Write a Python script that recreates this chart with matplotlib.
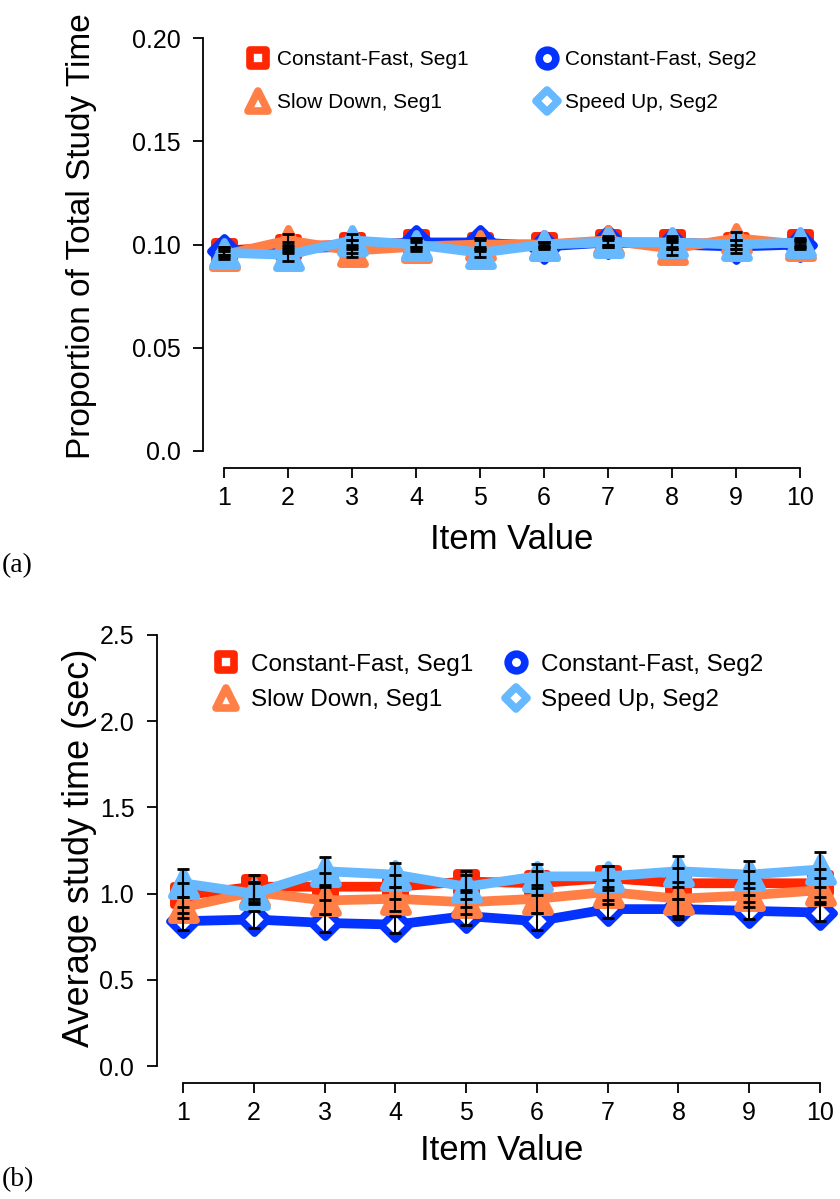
import matplotlib
matplotlib.use("Agg")
import matplotlib.pyplot as plt
from matplotlib.lines import Line2D
from matplotlib.markers import MarkerStyle

plt.rcParams['font.family'] = ['Liberation Sans', 'DejaVu Sans']

# ---------------- data ----------------
items = [1, 2, 3, 4, 5, 6, 7, 8, 9, 10]
series_names = ["Constant-Fast, Seg1", "Constant-Fast, Seg2", "Slow Down, Seg1", "Speed Up, Seg2"]

# panel (a): proportion of total study time
cf1_a = [0.097, 0.099, 0.100, 0.101, 0.100, 0.100, 0.101, 0.101, 0.100, 0.101]
cf2_a = [0.097, 0.098, 0.099, 0.101, 0.101, 0.099, 0.101, 0.100, 0.099, 0.100]
sd1_a = [0.095, 0.102, 0.097, 0.099, 0.100, 0.100, 0.102, 0.098, 0.103, 0.100]
su2_a = [0.096, 0.095, 0.102, 0.100, 0.096, 0.100, 0.101, 0.101, 0.100, 0.101]
cf1_a_err = [0.002, 0.002, 0.002, 0.002, 0.002, 0.001, 0.001, 0.002, 0.002, 0.001]
cf2_a_err = [0.002, 0.002, 0.003, 0.002, 0.002, 0.001, 0.002, 0.002, 0.003, 0.001]
sd1_a_err = [0.002, 0.003, 0.003, 0.002, 0.003, 0.001, 0.002, 0.003, 0.003, 0.002]
su2_a_err = [0.002, 0.003, 0.003, 0.002, 0.002, 0.001, 0.002, 0.003, 0.002, 0.002]

# panel (b): average study time (sec)
cf1_b = [0.99, 1.04, 1.04, 1.04, 1.07, 1.06, 1.09, 1.06, 1.06, 1.06]
cf2_b = [0.84, 0.85, 0.83, 0.82, 0.87, 0.84, 0.91, 0.91, 0.90, 0.89]
sd1_b = [0.92, 1.01, 0.96, 0.97, 0.95, 0.97, 1.01, 0.97, 0.99, 1.02]
su2_b = [1.06, 1.00, 1.13, 1.11, 1.04, 1.10, 1.10, 1.13, 1.11, 1.14]
cf1_b_err = [0.07, 0.07, 0.08, 0.07, 0.06, 0.07, 0.07, 0.09, 0.07, 0.08]
cf2_b_err = [0.05, 0.05, 0.05, 0.05, 0.05, 0.05, 0.05, 0.06, 0.05, 0.05]
sd1_b_err = [0.06, 0.06, 0.08, 0.07, 0.07, 0.08, 0.07, 0.10, 0.07, 0.07]
su2_b_err = [0.08, 0.06, 0.08, 0.07, 0.07, 0.07, 0.06, 0.09, 0.08, 0.10]

yticks_a = [0.0, 0.05, 0.10, 0.15, 0.20]
yticklabels_a = ["0.0", "0.05", "0.10", "0.15", "0.20"]
yticks_b = [0.0, 0.5, 1.0, 1.5, 2.0, 2.5]
yticklabels_b = ["0.0", "0.5", "1.0", "1.5", "2.0", "2.5"]

# ---------------- style ----------------
RED = '#FF2600'
BLUE = '#0433FF'
ORANGE = '#FF7F47'
LBLUE = '#66B8FF'

W, H = 840, 1199
fig = plt.figure(figsize=(W / 100, H / 100), dpi=100)


def frac_box(x0, x1, ytop, ybot):
    return [x0 / W, 1 - ybot / H, (x1 - x0) / W, (ybot - ytop) / H]


def mk(m):
    return MarkerStyle(m, joinstyle='round')


def draw_panel(ax, data, errs, ylim, yticks, yticklabels, left_off, bottom_off):
    styles = [
        dict(color=RED, marker=mk('s'), mfc=RED, mec=RED, ms=14),
        dict(color=BLUE, marker=mk('D'), mfc='white', mec=BLUE, ms=14),
        dict(color=ORANGE, marker=mk('^'), mfc=ORANGE, mec=ORANGE, ms=18),
        dict(color=LBLUE, marker=mk('^'), mfc=LBLUE, mec=LBLUE, ms=18),
    ]
    for vals, st in zip(data, styles):
        ax.plot(items, vals, lw=7, mew=5, solid_capstyle='round',
                solid_joinstyle='round', clip_on=False, zorder=2, **st)
    for vals, e in zip(data, errs):
        ax.errorbar(items, vals, yerr=e, fmt='none', ecolor='black', elinewidth=1.5,
                    capsize=4.5, capthick=2, clip_on=False, zorder=5)
    ax.set_xlim(1, 10)
    ax.set_ylim(*ylim)
    ax.set_xticks(items)
    ax.set_xticklabels([str(i) for i in items])
    ax.set_yticks(yticks)
    ax.set_yticklabels(yticklabels)
    for s in ['top', 'right']:
        ax.spines[s].set_visible(False)
    ax.spines['left'].set_position(('outward', left_off))
    ax.spines['bottom'].set_position(('outward', bottom_off))
    for s in ['left', 'bottom']:
        ax.spines[s].set_linewidth(1.3)
    ax.tick_params(direction='out', length=7.5, width=1.3, labelsize=18)
    ax.tick_params(axis='y', pad=8.6)
    ax.tick_params(axis='x', pad=6)


def legend_handles():
    return [
        Line2D([], [], ls='none', marker=mk('s'), ms=11, mew=5.5, mfc='white', mec=RED),
        Line2D([], [], ls='none', marker=mk('^'), ms=14, mew=5.5, mfc='white', mec=ORANGE),
        Line2D([], [], ls='none', marker=mk('o'), ms=12, mew=5.5, mfc='white', mec=BLUE),
        Line2D([], [], ls='none', marker=mk('D'), ms=11, mew=5.5, mfc='white', mec=LBLUE),
    ]


leg_labels = [series_names[0], series_names[2], series_names[1], series_names[3]]

# ---------------- panel (a) ----------------
ax1 = fig.add_axes(frac_box(224, 800, 38, 451))
draw_panel(ax1, [cf1_a, cf2_a, sd1_a, su2_a], [cf1_a_err, cf2_a_err, sd1_a_err, su2_a_err],
           (0, 0.20), yticks_a, yticklabels_a, 15, 12)
ax1.set_xlabel("Item Value", fontsize=25, labelpad=9)
fig.text(82 / W, 1 - 236 / H, "Proportion of Total Study Time", rotation=90,
         ha='center', va='center', fontsize=24)
ax1.legend(legend_handles(), leg_labels, ncol=2, loc='upper left',
           bbox_to_anchor=(0.041, 0.970), frameon=False, fontsize=15,
           handlelength=1.0, handletextpad=0.4, columnspacing=3.25,
           labelspacing=1.15, borderpad=0, borderaxespad=0)

# ---------------- panel (b) ----------------
ax2 = fig.add_axes(frac_box(183, 820, 635, 1066))
draw_panel(ax2, [cf1_b, cf2_b, sd1_b, su2_b], [cf1_b_err, cf2_b_err, sd1_b_err, su2_b_err],
           (0, 2.5), yticks_b, yticklabels_b, 19, 12)
ax2.set_xlabel("Item Value", fontsize=25, labelpad=6)
fig.text(80 / W, 1 - 848 / H, "Average study time (sec)", rotation=90,
         ha='center', va='center', fontsize=26)
ax2.legend(legend_handles(), leg_labels, ncol=2, loc='upper left',
           bbox_to_anchor=(0.048, 0.956), frameon=False, fontsize=17.5,
           handlelength=1.0, handletextpad=0.53, columnspacing=1.27,
           labelspacing=0.55, borderpad=0, borderaxespad=0)

fig.text(2 / W, 1 - 566 / H, "(a)", fontsize=20, family=['Liberation Serif'],
         ha='left', va='center')
fig.text(2 / W, 1 - 1180 / H, "(b)", fontsize=20, family=['Liberation Serif'],
         ha='left', va='center')

fig.savefig("out.png", dpi=100)
